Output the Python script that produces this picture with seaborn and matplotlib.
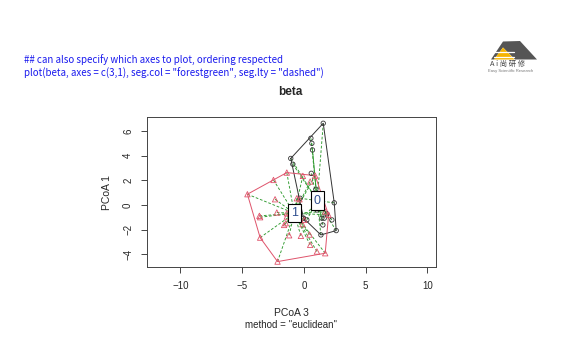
import numpy as np
import pandas as pd
import matplotlib
matplotlib.use("Agg")
import matplotlib.pyplot as plt
from matplotlib.patches import Polygon
import seaborn as sns

# ==========================
# Data
# ==========================

# group 0 (black circles): PCoA 3, PCoA 1
g0_x = [1.57, 0.57, -1.06, -0.03, 1.38, 2.62, 2.46, 0.65, 0.70, -0.89, 0.60,
        0.97, -0.30, 1.06, 1.46, 1.65, 1.54, 2.27, 1.87, 0.24, 1.33]
g0_y = [6.64, 5.42, 3.78, -1.08, -2.44, -2.09, 0.17, 5.01, 4.47, 3.31, 2.57,
        1.27, 0.54, -0.41, -1.08, -1.08, -1.63, -1.22, -0.73, -1.22, -0.14]

# group 1 (red triangles)
g1_x = [-4.57, -2.46, -1.38, 0.92, 2.00, 1.73, 1.06, -2.13, -3.54, -2.33,
        -2.19, -3.60, -3.54, -1.46, -1.60, -1.19, -0.24, 0.46, 0.51, -0.11,
        -0.57, -0.35, -0.08, 0.51, -1.38, 1.73, -1.38, 0.03]
g1_y = [0.87, 2.03, 2.63, 2.38, -0.81, -3.93, -3.79, -4.61, -2.66, 0.46,
        -0.62, -0.89, -1.00, -1.49, -1.63, -2.47, -2.52, -2.41, -3.25, -1.57,
        0.54, 0.46, 2.36, 1.90, -0.68, -0.54, -0.95, -1.22]

centroid_x = [1.08, -0.78]
centroid_y = [0.35, -0.68]
group_labels = ["0", "1"]

xticks = [-10, -5, 0, 5, 10]
yticks = [-4, -2, 0, 2, 4, 6]

df = pd.DataFrame({
    "PCoA3": g0_x + g1_x,
    "PCoA1": g0_y + g1_y,
    "group": ["0"] * len(g0_x) + ["1"] * len(g1_x),
})

colors = {"0": "#333333", "1": "#DF536B"}
markers = {"0": "o", "1": "^"}
sizes = {"0": 10, "1": 15}
seg_col = "#2E9A2E"


def hull(pts):
    pts = sorted(set(pts))
    def cross(o, a, b):
        return (a[0] - o[0]) * (b[1] - o[1]) - (a[1] - o[1]) * (b[0] - o[0])
    lower, upper = [], []
    for p in pts:
        while len(lower) >= 2 and cross(lower[-2], lower[-1], p) <= 0:
            lower.pop()
        lower.append(p)
    for p in reversed(pts):
        while len(upper) >= 2 and cross(upper[-2], upper[-1], p) <= 0:
            upper.pop()
        upper.append(p)
    return lower[:-1] + upper[:-1]


sns.set_style("white")
plt.rcParams["font.family"] = ["Liberation Sans", "DejaVu Sans"]

fig = plt.figure(figsize=(5.88, 3.6), dpi=100)
ax = fig.add_axes([147 / 588, 1 - 267 / 360, 289 / 588, 150 / 360])

# segments to centroids
for i, g in enumerate(group_labels):
    sub = df[df["group"] == g]
    for x, y in zip(sub["PCoA3"], sub["PCoA1"]):
        ax.plot([x, centroid_x[i]], [y, centroid_y[i]], color=seg_col,
                lw=0.65, ls=(0, (3, 2)), zorder=1)

# hulls
for g in group_labels:
    sub = df[df["group"] == g]
    h = hull(list(zip(sub["PCoA3"], sub["PCoA1"])))
    h.append(h[0])
    hx, hy = zip(*h)
    ax.plot(hx, hy, color=colors[g], lw=0.7, zorder=2)

# open point markers, one call per group
for g in group_labels:
    sns.scatterplot(data=df[df["group"] == g], x="PCoA3", y="PCoA1",
                    marker=markers[g], s=sizes[g], facecolor="none",
                    edgecolor=colors[g], linewidth=0.6, legend=False, ax=ax,
                    zorder=3)

for i, g in enumerate(group_labels):
    ax.text(centroid_x[i], centroid_y[i], g, ha="center", va="center",
            fontsize=9, color="#2F4F8F", zorder=5,
            bbox=dict(boxstyle="square,pad=0.25", fc="white", ec="black", lw=0.8))

ax.set_xlim(-12.7, 10.7)
ax.set_ylim(-5.05, 7.15)
ax.set_xticks(xticks)
ax.set_yticks(yticks)
ax.tick_params(axis="both", direction="out", length=4, width=0.7,
               labelsize=7, color="#444444", bottom=True, left=True, pad=6)
plt.setp(ax.get_yticklabels(), rotation=90, va="center")
for sp in ax.spines.values():
    sp.set_linewidth(0.7)
    sp.set_color("#444444")
ax.set_xlabel("")
ax.set_ylabel("PCoA 1", fontsize=7.5, labelpad=8)

fig.text(290 / 588, 1 - 92 / 360, "beta", ha="center", va="center",
         fontsize=8.5, fontweight="bold")
fig.text(291 / 588, 1 - 313 / 360, "PCoA 3", ha="center", va="center",
         fontsize=7.5)
fig.text(291 / 588, 1 - 325 / 360, 'method = "euclidean"', ha="center",
         va="center", fontsize=7)

code_font = ["Noto Sans CJK SC", "DejaVu Sans"]
fig.text(24 / 588, 1 - 60 / 360,
         "## can also specify which axes to plot, ordering respected",
         ha="left", va="center", fontsize=7.0, color="#1a1aee",
         family=code_font, fontweight="medium")
fig.text(24 / 588, 1 - 73 / 360,
         'plot(beta, axes = c(3,1), seg.col = "forestgreen", seg.lty = "dashed")',
         ha="left", va="center", fontsize=7.0, color="#1a1aee",
         family=code_font, fontweight="medium")

# logo
lax = fig.add_axes([0, 0, 1, 1], facecolor="none")
lax.set_xlim(0, 588)
lax.set_ylim(360, 0)
lax.axis("off")
lax.add_patch(Polygon([(491, 59.5), (503, 41.5), (520, 41), (537, 59.5),
                       (515, 59.5), (503, 47.5), (494, 59.5)], closed=True,
                      fc="#555555", ec="none"))
lax.add_patch(Polygon([(494, 59.5), (503, 47.5), (514.5, 59.5)], closed=True,
                      fc="#F5B400", ec="none"))
for yy in [52.4, 56.5]:
    lax.plot([494, 514], [yy, yy], color="white", lw=0.9)
lax.text(508, 64, "A i 尚 研 修", ha="center", va="center", fontsize=5.3,
         color="#444444", family=["Noto Sans CJK SC", "DejaVu Sans"])
lax.text(511, 71, "Easy Scientific Research", ha="center", va="center",
         fontsize=3, color="#777777")

fig.savefig("out.png", dpi=100)
